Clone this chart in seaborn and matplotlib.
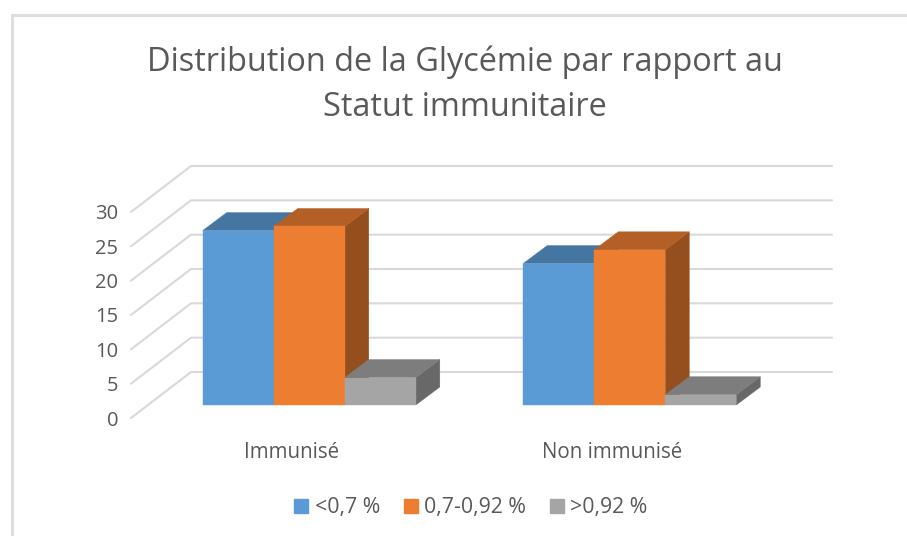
import matplotlib
matplotlib.use("Agg")
import matplotlib.pyplot as plt
import matplotlib.colors as mcolors
from matplotlib.lines import Line2D
from matplotlib.patches import Polygon
from matplotlib.transforms import Affine2D
import pandas as pd
import seaborn as sns

# Values
categories = ["Immunisé", "Non immunisé"]
series_names = ["<0,7 %", "0,7-0,92 %", ">0,92 %"]
low_values = [25.4, 20.6]
mid_values = [26.0, 22.6]
high_values = [4.0, 1.5]
y_ticks = [0, 5, 10, 15, 20, 25, 30]
colors = ["#5B9BD5", "#ED7D31", "#A5A5A5"]

TEXT = "#595959"
GRID = "#D9D9D9"

# 3D look, in pixels
WALL_DX, WALL_DY = 60, 46
BAR_DX, BAR_DY = 18, 13
DEPTH_DX, DEPTH_DY = 24, 18

sns.set_theme(style="white")
plt.rcParams["font.family"] = ["Open Sans", "DejaVu Sans"]

W, H = 907, 536
fig = plt.figure(figsize=(W / 100, H / 100), dpi=100)
fig.patch.set_facecolor("white")

# front plane of the chart box
left, right, top, bottom = 131, 772, 212, 418
ax = fig.add_axes([left / W, 1 - bottom / H, (right - left) / W, (bottom - top) / H])
ax.patch.set_alpha(0)

df = pd.DataFrame({
    "categorie": categories * 3,
    "serie": [s for s in series_names for _ in categories],
    "valeur": low_values + mid_values + high_values,
})
sns.barplot(data=df, x="categorie", y="valeur", hue="serie", palette=colors, saturation=1,
            width=0.665, gap=0, legend=False, ax=ax, zorder=3)
ax.set_ylim(0, 30)
ax.set_xlim(-0.5, 1.5)


def shade(color, factor):
    r, g, b = mcolors.to_rgb(color)
    return (r * factor, g * factor, b * factor)


def to_px(x, y):
    return ax.transData.transform((x, y))


def px_poly(points, color, z):
    fig.add_artist(Polygon(points, closed=True, facecolor=color, edgecolor=color, lw=0.3,
                           transform=Affine2D(), zorder=z))


fig.canvas.draw()

# gridlines: back wall and left side
for tick in y_ticks:
    x0, y0 = to_px(-0.5, tick)
    x1, y1 = to_px(1.5, tick)
    xs = [x0, x0 + WALL_DX, x1 + WALL_DX]
    ys = [y0, y0 + WALL_DY, y1 + WALL_DY]
    fig.add_artist(Line2D(xs, ys, color=GRID, lw=1.5, transform=Affine2D(), zorder=1))

# bars: move the fronts off the front plane and add top and side faces
bars = sorted(ax.patches, key=lambda p: p.get_x())
for i, bar in enumerate(bars):
    color = bar.get_facecolor()
    xa, ya = to_px(bar.get_x(), 0)
    xb, yb = to_px(bar.get_x() + bar.get_width(), bar.get_height())
    xa, xb = xa + BAR_DX, xb + BAR_DX
    ya, yb = ya + BAR_DY, yb + BAR_DY
    z = 3 + 0.1 * i
    px_poly([(xb, ya), (xb + DEPTH_DX, ya + DEPTH_DY), (xb + DEPTH_DX, yb + DEPTH_DY), (xb, yb)],
            shade(color, 0.63), z)
    px_poly([(xa, yb), (xa + DEPTH_DX, yb + DEPTH_DY), (xb + DEPTH_DX, yb + DEPTH_DY), (xb, yb)],
            shade(color, 0.76), z)
    px_poly([(xa, ya), (xb, ya), (xb, yb), (xa, yb)], color, z + 0.05)
    bar.set_visible(False)

# axes text
sns.despine(ax=ax, left=True, bottom=True)
ax.set_xlabel("")
ax.set_ylabel("")
ax.set_yticks(y_ticks)
ax.set_yticklabels([str(t) for t in y_ticks])
ax.tick_params(axis="y", length=0, pad=9, labelsize=14.5, labelcolor=TEXT)
ax.tick_params(axis="x", length=0, pad=17, labelsize=14.8, labelcolor=TEXT)

fig.text(465 / W, 1 - 62 / H, "Distribution de la Glycémie par rapport au",
         ha="center", va="center", fontsize=23.4, color=TEXT)
fig.text(465 / W, 1 - 108 / H, "Statut immunitaire",
         ha="center", va="center", fontsize=23.4, color=TEXT)

# legend
handles = [Line2D([], [], ls="", marker="s", ms=9.5, color=c) for c in colors]
fig.legend(handles, series_names, loc="center", bbox_to_anchor=(471 / W, 1 - 508 / H), ncol=3,
           frameon=False, fontsize=15.3, labelcolor=TEXT, handlelength=0.62, handletextpad=0.33,
           columnspacing=1.13)

# outer frame, cut by the picture edges
fig.add_artist(Line2D([11.5, 11.5, W], [0, H - 15, H - 15], color="#DEDEDE", lw=2.2,
                      transform=Affine2D(), zorder=0))

fig.savefig("out.png", dpi=100)
